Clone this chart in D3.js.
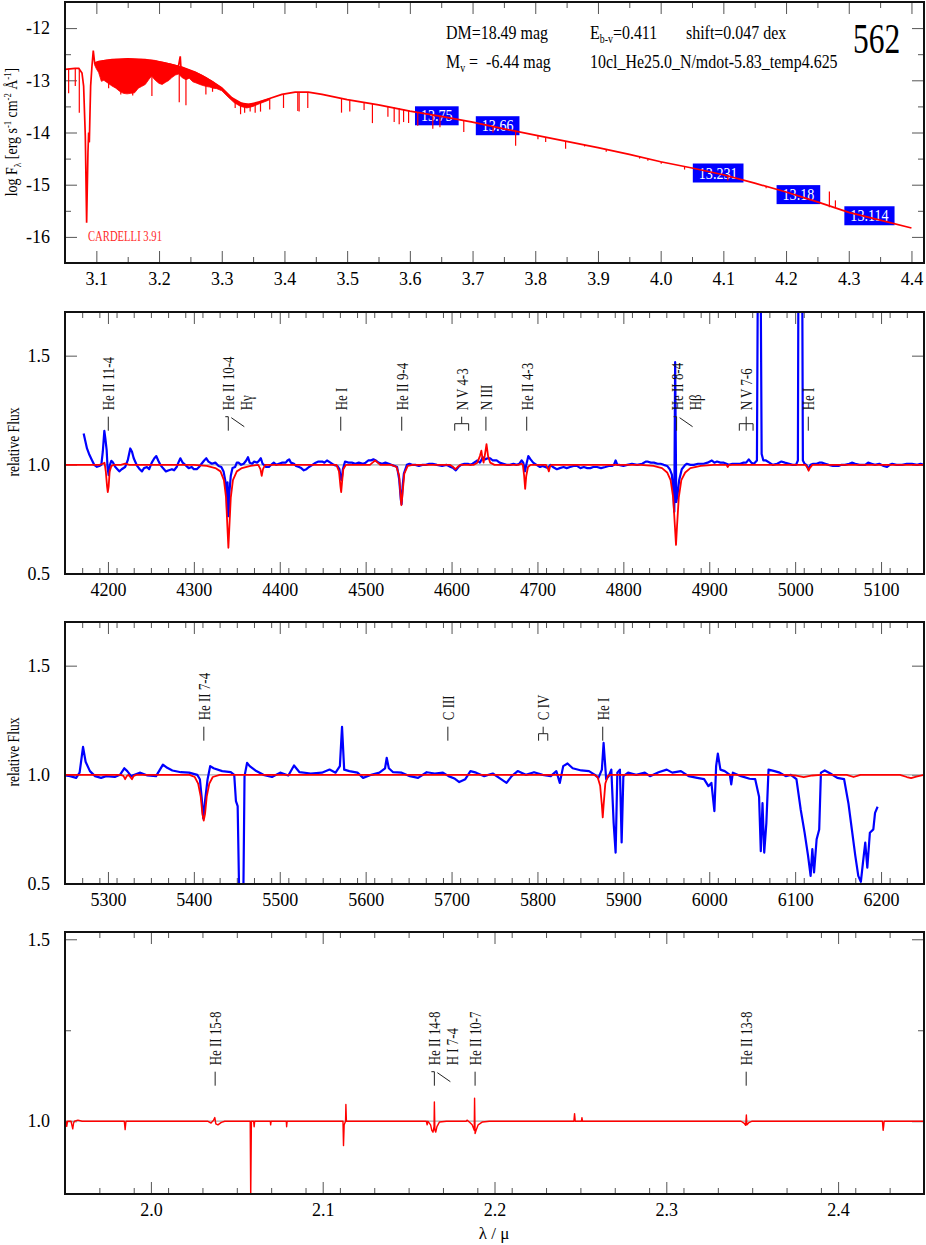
<!DOCTYPE html>
<html><head><meta charset="utf-8">
<script src="https://cdn.jsdelivr.net/npm/d3@7"></script>
<style>
body{margin:0;background:#fff}
svg{display:block}
svg text{font-family:"Liberation Serif","Times New Roman",serif !important}
</style></head>
<body><svg id="chart" width="926" height="1245"></svg>
<script>
// ===================== DATA =====================
// Panel 1: SED (log lambda / log F)
const sedXTicks=[3.1,3.2,3.3,3.4,3.5,3.6,3.7,3.8,3.9,4.0,4.1,4.2,4.3,4.4];
const sedYTicks=[-16,-15,-14,-13,-12];
const sedModel=[[3.05,-12.79],[3.058,-12.78],[3.066,-12.77],[3.072,-12.77],[3.0771,-12.86],[3.0797,-13.11],[3.0824,-14.07],[3.0845,-15.73],[3.0866,-14.38],[3.0877,-14.0],[3.0888,-14.19],[3.0899,-13.6],[3.0909,-13.11],[3.093,-12.73],[3.0951,-12.43],[3.0973,-12.67],[3.1036,-12.64],[3.125,-12.605],[3.15,-12.59],[3.178,-12.605],[3.205,-12.655],[3.231,-12.73],[3.2338,-12.54],[3.2348,-12.74],[3.258,-12.846],[3.284,-13.02],[3.3,-13.145],[3.316,-13.335],[3.332,-13.443],[3.343,-13.462],[3.359,-13.418],[3.375,-13.354],[3.396,-13.27],[3.417,-13.227],[3.438,-13.227],[3.46,-13.27],[3.5,-13.37],[3.55,-13.47],[3.6,-13.59],[3.65,-13.69],[3.7,-13.8],[3.75,-13.93],[3.8,-14.05],[3.85,-14.17],[3.9,-14.29],[3.95,-14.42],[4.0,-14.56],[4.05,-14.68],[4.1,-14.81],[4.15,-14.97],[4.2,-15.14],[4.25,-15.33],[4.3,-15.53],[4.35,-15.68],[4.4,-15.83]];
// UV line forest: [logLambda, upper, lower]
const sedForest=[[3.097,-12.67,-12.70],[3.100,-12.655,-12.78],[3.1036,-12.64,-12.85],[3.108,-12.63,-13.02],[3.112,-12.62,-13.0],[3.118,-12.61,-13.05],[3.125,-12.605,-13.11],[3.131,-12.60,-13.15],[3.137,-12.60,-13.21],[3.143,-12.595,-13.25],[3.149,-12.59,-13.26],[3.155,-12.59,-13.25],[3.161,-12.595,-13.24],[3.167,-12.6,-13.15],[3.172,-12.6,-13.12],[3.178,-12.605,-13.08],[3.184,-12.61,-12.98],[3.188,-12.61,-12.92],[3.194,-12.62,-13.0],[3.2,-12.64,-13.06],[3.205,-12.655,-13.08],[3.21,-12.665,-13.04],[3.216,-12.68,-13.0],[3.22,-12.69,-12.95],[3.226,-12.71,-12.9],[3.231,-12.73,-12.88],[3.237,-12.75,-12.95],[3.243,-12.78,-12.99],[3.248,-12.8,-12.96],[3.254,-12.83,-13.03],[3.259,-12.85,-13.05],[3.265,-12.88,-13.08],[3.27,-12.91,-13.1],[3.276,-12.95,-13.12],[3.281,-12.99,-13.13],[3.286,-13.03,-13.15],[3.292,-13.08,-13.16],[3.3,-13.145,-13.2],[3.31,-13.27,-13.32],[3.32,-13.37,-13.43],[3.33,-13.43,-13.5],[3.34,-13.46,-13.53],[3.35,-13.45,-13.5],[3.36,-13.41,-13.45],[3.375,-13.354,-13.38]];
// individual lines: [logLambda, from, to]
const sedLines=[[3.0505,-12.79,-13.30],[3.0558,-12.78,-13.25],[3.0664,-12.77,-13.11],[3.0728,-12.78,-13.62],[3.1196,-12.61,-13.15],[3.139,-12.6,-13.27],[3.158,-12.59,-13.29],[3.1886,-12.61,-13.30],[3.2322,-12.73,-13.42],[3.2429,-12.78,-13.48],[3.2747,-12.94,-13.27],[3.2853,-13.02,-13.22],[3.3214,-13.38,-13.53],[3.330,-13.43,-13.65],[3.3365,-13.45,-13.62],[3.3453,-13.46,-13.60],[3.3533,-13.44,-13.62],[3.3618,-13.41,-13.6],[3.3765,-13.35,-13.56],[3.3985,-13.26,-13.53],[3.4213,-13.225,-13.59],[3.4234,-13.225,-13.6],[3.4372,-13.227,-13.53],[3.491,-13.34,-13.62],[3.5042,-13.38,-13.6],[3.527,-13.42,-13.57],[3.5403,-13.45,-13.82],[3.565,-13.5,-13.7],[3.575,-13.52,-13.8],[3.583,-13.535,-13.84],[3.590,-13.55,-13.8],[3.598,-13.57,-13.82],[3.6126,-13.61,-13.87],[3.6366,-13.66,-13.93],[3.648,-13.69,-13.9],[3.686,-13.77,-13.99],[3.7326,-13.88,-14.0],[3.7687,-13.96,-14.255],[3.8043,-14.06,-14.13],[3.8166,-14.09,-14.18],[3.8484,-14.165,-14.31],[3.8787,-14.24,-14.27],[3.9132,-14.32,-14.37],[3.9664,-14.46,-14.5],[3.9796,-14.49,-14.54],[4.0009,-14.56,-14.6],[4.0381,-14.65,-14.71],[4.1071,-14.83,-14.92],[4.1682,-15.03,-15.07],[4.2293,-15.25,-15.27],[4.2691,-15.4,-15.43],[4.2691,-15.4,-15.13],[4.2787,-15.43,-15.3]];
// photometry boxes
const photLambda=[3.643,3.740,4.0917,4.2197,4.333];
const photFlux=[-13.68,-13.87,-14.776,-15.19,-15.595];
const photMag=["13.75","13.66","13.231","13.18","13.114"];

// Panel 2: optical blue
const opt1XTicks=[4200,4300,4400,4500,4600,4700,4800,4900,5000,5100];
const relYTicks=[0.5,1.0,1.5];
const opt1Obs=[[4171.7,1.143],[4175.6,1.075],[4178,1.05],[4181.4,1.021],[4184,1.0],[4187.2,0.991],[4190,0.995],[4192.3,1.0],[4194,1.06],[4195.8,1.156],[4197,1.12],[4198.5,1.067],[4199.5,0.99],[4200.8,0.953],[4202.3,1.0],[4203.9,1.018],[4206,1.01],[4208.6,0.99],[4211,0.98],[4213.2,0.97],[4216,0.98],[4220,0.99],[4223,1.02],[4226,1.075],[4228,1.06],[4230,1.03],[4234,0.995],[4237,0.98],[4239.6,0.97],[4242,0.985],[4245.4,0.99],[4248,0.98],[4251,1.01],[4254,1.03],[4256.3,1.04],[4258.5,1.02],[4261,1.0],[4264,0.985],[4267.5,0.97],[4271,0.975],[4274.5,0.98],[4277,0.975],[4280,0.99],[4282,1.01],[4284.3,1.03],[4287,1.01],[4290,1.0],[4294,0.985],[4297.6,0.99],[4300,0.98],[4303.4,0.98],[4306,0.99],[4309,1.005],[4312,1.02],[4314.5,1.03],[4317,1.015],[4321,1.005],[4325,1.01],[4328.8,0.995],[4332,0.99],[4334.6,0.97],[4336.5,0.93],[4338,0.88],[4338.8,0.78],[4339.2,0.92],[4339.7,0.765],[4340.6,0.765],[4341.5,0.88],[4343,0.95],[4345,0.985],[4348,0.99],[4350,1.01],[4352,1.01],[4355,1.0],[4358,1.005],[4361,1.02],[4363,1.035],[4365,1.01],[4368,1.005],[4370,1.015],[4373.8,1.01],[4376,1.02],[4378,1.03],[4380,1.005],[4381.6,1.0],[4384,0.99],[4387.4,0.99],[4390,1.0],[4393,1.01],[4396,1.0],[4399,1.005],[4403,1.01],[4407,1.01],[4409,1.02],[4411,1.025],[4413,1.01],[4416.6,1.005],[4419,0.995],[4422.4,0.99],[4425,0.985],[4428,0.975],[4431,0.98],[4434,0.99],[4438,1.0],[4441.8,1.01],[4445,1.015],[4449.5,1.015],[4452,1.01],[4455,1.02],[4459,1.01],[4463,1.0],[4467,0.995],[4469.5,0.98],[4471,0.935],[4472,0.93],[4473.5,0.98],[4476,1.015],[4480,1.01],[4484,1.01],[4488,1.005],[4492,1.01],[4497,1.005],[4500,1.01],[4503,1.02],[4506,1.02],[4509,1.025],[4512,1.02],[4515,1.01],[4519,1.005],[4523,1.01],[4527,1.005],[4530,1.0],[4534,0.995],[4536.6,0.99],[4539,0.935],[4541,0.84],[4541.8,0.82],[4543,0.9],[4544.5,0.96],[4548,1.0],[4551,1.005],[4554,1.0],[4558,1.0],[4562,0.995],[4566,1.0],[4570,1.0],[4574,1.005],[4578,1.005],[4583,1.0],[4589,0.995],[4594,1.0],[4599,0.99],[4602,0.985],[4605,0.975],[4608,0.99],[4611,1.0],[4615,1.005],[4619,1.005],[4622,1.0],[4624.5,1.005],[4628,1.015],[4630,1.02],[4633,1.01],[4636.4,1.035],[4639,1.025],[4642,1.03],[4645,1.03],[4648,1.02],[4652.5,1.02],[4656,1.01],[4660.3,1.005],[4664,1.0],[4668,1.0],[4672,1.005],[4675.8,1.0],[4679,1.005],[4681.6,1.02],[4683.5,1.01],[4685.5,0.97],[4687,1.0],[4689.4,1.04],[4692,1.025],[4695,1.01],[4699,1.0],[4703,0.99],[4706,0.995],[4709,0.99],[4712,0.985],[4715,1.0],[4718,0.99],[4722.6,0.98],[4726,0.985],[4730.4,0.99],[4734,0.985],[4738,0.99],[4742,0.995],[4746,0.995],[4750,0.985],[4754,0.99],[4758,0.985],[4761.6,0.985],[4765,0.99],[4769.4,0.99],[4774,0.985],[4779,0.99],[4783,0.995],[4787,0.995],[4789,1.0],[4791,1.02],[4793,1.0],[4795,1.0],[4800,0.995],[4804.5,1.0],[4810,1.005],[4816,1.0],[4822,1.005],[4826,1.015],[4828,1.015],[4832,1.01],[4835.6,1.01],[4840,1.005],[4843.4,1.005],[4847,1.0],[4851,0.995],[4854,0.98],[4856.5,0.955],[4858,0.88],[4859.3,0.785],[4860.3,1.47],[4861.6,0.83],[4863,0.86],[4865,0.93],[4868,0.98],[4872,1.0],[4874,1.005],[4878,1.0],[4882,1.0],[4887,1.005],[4893.5,1.005],[4898,1.01],[4903,1.02],[4906,1.01],[4909,1.015],[4913,1.01],[4917,1.01],[4920,1.005],[4922.5,1.0],[4927,1.005],[4932,1.005],[4936,1.005],[4940,1.01],[4943,1.01],[4946,1.025],[4949,1.01],[4952,1.005],[4955.5,1.02],[4956.6,1.9],[4959.8,1.9],[4961,1.05],[4963,1.02],[4966,1.02],[4970,1.01],[4974,1.0],[4979,1.005],[4984,1.015],[4988,1.01],[4993,1.005],[4997,1.0],[5001,1.0],[5003.2,1.02],[5003.8,1.9],[5008.2,1.9],[5009,1.02],[5011,1.005],[5013,1.0],[5015.5,0.98],[5018,1.0],[5021,1.005],[5025,1.005],[5028,1.01],[5031,1.01],[5035,1.005],[5039,1.0],[5044,0.995],[5050.5,0.995],[5054,1.0],[5058,1.0],[5063,1.005],[5066,1.01],[5070,1.005],[5075,1.0],[5081.5,1.0],[5085,1.01],[5089,1.005],[5093,1.0],[5098,1.005],[5103,0.995],[5107,0.99],[5110,1.0],[5113,1.005],[5118,1.0],[5124.5,1.0],[5130,1.005],[5136,1.005],[5142,1.0],[5146,1.005],[5150,1.0]];
const opt1Model=[[4150,1.0],[4190,1.0],[4194,1.005],[4196,1.01],[4197.5,0.97],[4199,0.9],[4199.8,0.875],[4200.8,0.9],[4202,0.97],[4204,0.995],[4207,1.0],[4215,1.0],[4220,1.005],[4225,1.0],[4300,1.0],[4315,0.995],[4325,0.985],[4331,0.97],[4335,0.93],[4337.5,0.85],[4339,0.72],[4340.2,0.62],[4341.4,0.72],[4343,0.85],[4345.5,0.93],[4350,0.97],[4356,0.985],[4366,0.995],[4375,1.0],[4377.5,0.98],[4379,0.95],[4380.5,0.98],[4383,1.0],[4466,1.0],[4469,0.97],[4470.7,0.9],[4471.5,0.875],[4472.5,0.92],[4474,0.98],[4477,1.0],[4505,1.0],[4508,1.01],[4511,1.02],[4514,1.01],[4517,1.0],[4530,1.0],[4536,0.99],[4539,0.95],[4541,0.84],[4541.6,0.815],[4542.5,0.85],[4545,0.96],[4549,0.995],[4555,1.0],[4598,1.0],[4602,0.99],[4604.5,0.98],[4607,0.99],[4610,1.0],[4620,1.0],[4626,1.0],[4630,1.01],[4633,1.04],[4634.7,1.065],[4636,1.03],[4637.3,1.01],[4639,1.05],[4640.7,1.095],[4642.5,1.04],[4645,1.01],[4650,1.0],[4678,1.0],[4681,1.005],[4683,1.0],[4684.5,0.95],[4685.7,0.89],[4687,0.95],[4689,0.99],[4692,1.0],[4710,1.0],[4712,0.985],[4713.3,0.97],[4714.5,0.99],[4716,1.0],[4820,1.0],[4835,0.995],[4845,0.985],[4851,0.965],[4855,0.93],[4858,0.85],[4860,0.72],[4861.3,0.633],[4862.5,0.72],[4864.5,0.85],[4867.5,0.93],[4872,0.965],[4878,0.985],[4890,0.995],[4905,1.0],[4920,1.0],[4921.5,0.99],[4923,1.0],[5012,1.0],[5014.5,0.985],[5015.7,0.973],[5017,0.985],[5020,1.0],[5150,1.0]];
const opt1Ids=[
 {names:["He II 11-4"],lam:[4200.4]},
 {names:["He II 10-4","Hγ"],lam:[4340.1]},
 {names:["He I"],lam:[4471]},
 {names:["He II 9-4"],lam:[4542]},
 {names:["N V 4-3"],lam:[4603.7,4619.9]},
 {names:["N III"],lam:[4640]},
 {names:["He II 4-3"],lam:[4687.5]},
 {names:["He II 8-4","Hβ"],lam:[4862]},
 {names:["N V 7-6"],lam:[4935,4943,4951]},
 {names:["He I"],lam:[5015.3]}
];

// Panel 3: optical red
const opt2XTicks=[5300,5400,5500,5600,5700,5800,5900,6000,6100,6200];
const opt2Obs=[[5250,0.997],[5256,0.994],[5263,0.986],[5267,1.01],[5271,1.128],[5274,1.06],[5279,1.017],[5285,0.994],[5292,0.986],[5298,0.994],[5308,0.99],[5314,1.0],[5319,1.03],[5322.5,1.017],[5327,0.994],[5337,1.01],[5346,0.997],[5356,0.994],[5364,1.047],[5369,1.032],[5375,1.02],[5385,1.012],[5394.5,1.01],[5404,1.0],[5407,0.98],[5409,0.9],[5411,0.8],[5413,0.88],[5416,0.98],[5419,1.04],[5423,1.03],[5433,1.017],[5443,1.012],[5447,1.0],[5449,0.88],[5451,0.857],[5453,0.4],[5457.5,0.4],[5459,0.994],[5462,1.055],[5465,1.04],[5471.6,1.02],[5481,1.0],[5491,0.99],[5500.5,1.01],[5510,0.997],[5516.6,1.043],[5523,1.012],[5536,1.006],[5549,1.01],[5558,1.024],[5565,1.01],[5570,1.04],[5572.5,1.22],[5575,1.024],[5581,1.017],[5590.5,1.01],[5597,0.986],[5606.5,1.0],[5616,1.01],[5622.6,1.03],[5624.5,1.078],[5627,1.03],[5632,1.012],[5642,1.01],[5651.5,0.994],[5661,0.986],[5671,1.012],[5680.5,1.006],[5690,1.01],[5696.5,0.994],[5704,0.982],[5709,0.967],[5716,0.98],[5722,1.017],[5728.6,1.01],[5738,0.994],[5748,1.006],[5757.6,0.98],[5764,0.963],[5770,0.994],[5777,1.017],[5786.5,1.0],[5796,1.012],[5806,1.0],[5815.5,0.994],[5822,1.017],[5826,0.963],[5830,1.04],[5835,1.052],[5841,1.03],[5851,1.02],[5860,1.017],[5867,1.0],[5871,0.986],[5875,1.024],[5877,1.146],[5880,0.98],[5883,0.994],[5886,1.024],[5888.7,0.78],[5891,0.644],[5893,1.01],[5896,1.024],[5898,0.69],[5900,0.994],[5905.5,1.01],[5915,1.0],[5925,1.01],[5931,0.994],[5941,1.012],[5950.5,1.024],[5957,1.01],[5967,1.017],[5976,0.994],[5986,0.986],[5994,0.98],[5999,0.948],[6002.5,0.963],[6006,0.834],[6008,1.04],[6010,1.097],[6013,1.024],[6018,1.017],[6024,1.0],[6025.6,0.956],[6027.5,1.01],[6037,0.994],[6047,0.982],[6053.5,0.98],[6058,0.9],[6060,0.65],[6062,0.87],[6064,0.644],[6066.5,0.78],[6069,1.024],[6076,1.017],[6082,1.01],[6089,0.994],[6095,1.0],[6101.5,0.98],[6106.5,0.84],[6111,0.735],[6115,0.63],[6118,0.537],[6120,0.66],[6122,0.553],[6125,0.705],[6128,0.75],[6130,1.01],[6134.5,1.02],[6141,1.006],[6149,0.986],[6157,0.98],[6162,0.87],[6166,0.75],[6170,0.63],[6173.5,0.537],[6176.5,0.51],[6179,0.6],[6181.6,0.69],[6184,0.575],[6187,0.735],[6191,0.75],[6193,0.826],[6196,0.854]];
const opt2Model=[[5250,1.0],[5315,1.0],[5318,0.995],[5320,0.98],[5322,0.995],[5324,1.0],[5326,0.99],[5328,0.98],[5330,0.995],[5333,1.0],[5395,1.0],[5401,0.99],[5405,0.96],[5408,0.9],[5410,0.82],[5411.5,0.79],[5413,0.82],[5415,0.9],[5418,0.96],[5422,0.99],[5430,1.0],[5866,1.0],[5870,0.99],[5873,0.95],[5875,0.86],[5876,0.805],[5877,0.86],[5879,0.96],[5882,0.995],[5885,1.0],[6090,1.0],[6100,0.997],[6110,0.99],[6120,0.997],[6130,1.0],[6160,1.0],[6168,0.99],[6176,1.0],[6222,1.0],[6230,0.99],[6235,0.985],[6241,0.992],[6250,1.0]];
const opt2Ids=[
 {names:["He II 7-4"],lam:[5411.6]},
 {names:["C III"],lam:[5695.7]},
 {names:["C IV"],lam:[5801.3,5812.0]},
 {names:["He I"],lam:[5876]}
];

// Panel 4: infrared K band (micron)
const irXTicks=[2.0,2.1,2.2,2.3,2.4];
const irYTicks=[1.0,1.5];
const irModel=[[1.95,1.0],[1.9505,1.0],[1.951,0.986],[1.9515,1.0],[1.9535,1.0],[1.9545,0.979],[1.955,0.995],[1.9555,1.0],[1.9575,1.003],[1.96,1.0],[1.9845,1.0],[1.985,0.977],[1.9855,1.0],[2.033,1.0],[2.035,0.995],[2.0365,1.003],[2.0372,1.01],[2.0378,0.993],[2.039,0.99],[2.041,0.997],[2.043,1.0],[2.0578,1.0],[2.0581,0.79],[2.0585,1.0],[2.0598,1.0],[2.0601,0.985],[2.0604,1.0],[2.0695,1.0],[2.0697,0.99],[2.07,1.0],[2.0788,1.0],[2.079,0.985],[2.0793,1.0],[2.1118,1.0],[2.1121,0.933],[2.1125,0.99],[2.1133,1.0],[2.1135,1.046],[2.1138,1.0],[2.1603,1.0],[2.1608,0.99],[2.1612,1.0],[2.1628,0.99],[2.1635,0.975],[2.1642,0.97],[2.1648,0.985],[2.165,1.053],[2.1653,0.975],[2.1658,0.97],[2.1665,0.985],[2.168,0.998],[2.172,1.0],[2.1835,1.0],[2.184,1.003],[2.1855,0.997],[2.187,0.99],[2.1882,0.975],[2.1884,1.063],[2.1887,0.966],[2.1893,0.975],[2.1905,0.99],[2.193,0.998],[2.197,1.0],[2.2462,1.0],[2.2466,1.021],[2.247,1.0],[2.2506,1.0],[2.2509,1.01],[2.2512,1.0],[2.3435,1.0],[2.3452,0.995],[2.3462,0.989],[2.3466,1.017],[2.3469,0.99],[2.348,0.996],[2.35,1.0],[2.4258,1.0],[2.4262,0.975],[2.4265,0.985],[2.4268,1.0],[2.45,1.0]];
const irIds=[
 {names:["He II 15-8"],lam:[2.0374]},
 {names:["He II 14-8","H I 7-4"],lam:[2.165]},
 {names:["He II 10-7"],lam:[2.1887]},
 {names:["He II 13-8"],lam:[2.3465]}
];

// ===================== DRAWING =====================
const svg=d3.select("#chart");
const RED="#ff0000", BLUE="#0000ff";
const FONT='"Liberation Serif","Times New Roman",serif';

function makePanel(o){
  const g=svg.append("g");
  const x=d3.scaleLinear().domain(o.xDomain).range([o.left,o.right]);
  const y=d3.scaleLinear().domain(o.yDomain).range([o.bottom,o.top]);
  const cid="clip-"+o.name;
  svg.append("clipPath").attr("id",cid).append("rect")
    .attr("x",o.left).attr("y",o.top).attr("width",o.right-o.left).attr("height",o.bottom-o.top);
  const axesG=g.append("g");
  function ax(axis,tx,ty,vals,size,fmt,pad){
    const a=axesG.append("g").attr("transform",`translate(${tx},${ty})`)
      .call(axis.tickValues(vals).tickSize(-size).tickPadding(pad||0).tickFormat(fmt||(()=>"")));
    a.attr("font-family",null).attr("font-size",null);
    a.select(".domain").remove();
    a.selectAll("line").attr("stroke","#555").attr("stroke-width",1);
    a.selectAll("text").attr("font-size",18).attr("fill","#000").style("font-family",FONT);
    return a;
  }
  const isMajor=(v,arr)=>arr.some(t=>Math.abs(t-v)<1e-9);
  const xMinor=d3.range(o.xDomain[0],o.xDomain[1]+1e-9,o.xMinorStep).filter(v=>!isMajor(v,o.xTicks)&&v>o.xDomain[0]+1e-9&&v<o.xDomain[1]-1e-9);
  const yMinor=(o.yMinor||[]);
  ax(d3.axisBottom(x),0,o.bottom,o.xTicks,12,o.xFmt,9);
  ax(d3.axisBottom(x),0,o.bottom,xMinor,6);
  ax(d3.axisTop(x),0,o.top,o.xTicks,12);
  ax(d3.axisTop(x),0,o.top,xMinor,6);
  ax(d3.axisLeft(y),o.left,0,o.yTicks,12,o.yFmt,15);
  ax(d3.axisLeft(y),o.left,0,yMinor,6);
  ax(d3.axisRight(y),o.right,0,o.yTicks,12);
  ax(d3.axisRight(y),o.right,0,yMinor,6);
  const plot=g.append("g").attr("clip-path",`url(#${cid})`);
  const over=g.append("g");
  g.append("rect").attr("x",o.left).attr("y",o.top).attr("width",o.right-o.left).attr("height",o.bottom-o.top)
    .attr("fill","none").attr("stroke","#111").attr("stroke-width",2);
  return {g,plot,over,x,y};
}

function drawIds(p,ids,yTop){
  const len=14, gap=6.5, g=p.over.append("g").attr("stroke","#222").attr("stroke-width",1).attr("fill","none");
  const tg=p.over.append("g");
  ids.forEach(d=>{
    const xs=d.lam.map(p.x);
    let xc;
    if(xs.length>1){
      const x0=d3.min(xs),x1=d3.max(xs); xc=(x0+x1)/2;
      g.append("line").attr("x1",x0).attr("x2",x1).attr("y1",yTop+len/2).attr("y2",yTop+len/2);
      xs.forEach(xx=>g.append("line").attr("x1",xx).attr("x2",xx).attr("y1",yTop+len/2).attr("y2",yTop+len));
      g.append("line").attr("x1",xc).attr("x2",xc).attr("y1",yTop).attr("y2",yTop+len/2);
    } else {
      xc=xs[0];
      g.append("line").attr("x1",xc).attr("x2",xc).attr("y1",yTop).attr("y2",yTop+len);
    }
    if(d.names.length>1){
      g.append("line").attr("x1",xc-3).attr("x2",xc).attr("y1",yTop).attr("y2",yTop);
      g.append("line").attr("x1",xc+3).attr("x2",xc+16).attr("y1",yTop+1).attr("y2",yTop+10);
    }
    d.names.forEach((nm,i)=>{
      const tx=xc+i*18;
      tg.append("text").attr("transform",`translate(${tx},${yTop-gap}) rotate(-90) scale(0.76,1)`)
        .attr("dy","0.35em").attr("font-size",17).attr("fill","#111").text(nm);
    });
  });
}

const fmt1=d3.format(".1f");

// ---------- Panel 1 ----------
const p1=makePanel({name:"sed",left:65,right:924,top:2,bottom:263,xDomain:[3.05,4.42],yDomain:[-16.5,-11.5],
  xTicks:sedXTicks,xMinorStep:0.05,xFmt:fmt1,yTicks:sedYTicks,yMinor:[-15.5,-14.5,-13.5,-12.5],yFmt:d=>String(d)});
photLambda.forEach((l,i)=>{
  const cx=p1.x(l), cy=p1.y(photFlux[i]);
  const t=p1.plot.append("text").attr("font-size",16).attr("fill","#fff")
    .attr("transform",`translate(${cx},${cy+5.5}) scale(0.88,1)`).attr("text-anchor","middle").text(photMag[i]);
  const w=t.node().getComputedTextLength()*0.88+12;
  p1.plot.insert("rect","text").attr("x",cx-w/2).attr("y",cy-9.5).attr("width",w).attr("height",19).attr("fill",BLUE);
});
p1.plot.append("path").datum(sedForest).attr("fill",RED).attr("stroke",RED).attr("stroke-width",0.8)
  .attr("d",d3.area().x(d=>p1.x(d[0])).y0(d=>p1.y(d[2])).y1(d=>p1.y(d[1])));
p1.plot.append("g").selectAll("line").data(sedLines).join("line")
  .attr("x1",d=>p1.x(d[0])).attr("x2",d=>p1.x(d[0])).attr("y1",d=>p1.y(d[1])).attr("y2",d=>p1.y(d[2]))
  .attr("stroke",RED).attr("stroke-width",1.2);
p1.plot.append("path").datum(sedModel).attr("fill","none").attr("stroke",RED).attr("stroke-width",1.7)
  .attr("d",d3.line().x(d=>p1.x(d[0])).y(d=>p1.y(d[1])));
function ann(x,y,parts,size,sx){
  const t=svg.append("text").attr("transform",`translate(${x},${y}) scale(${sx},1)`).attr("font-size",size)
    .attr("fill","#000").style("white-space","pre");
  parts.forEach(pt=>{
    const ts=t.append("tspan").text(pt.t);
    if(pt.sub){ts.attr("font-size",size*0.62).attr("dy",4);}
    if(pt.back){ts.attr("dy",-4);}
  });
  return t;
}
ann(446,39,[{t:"DM=18.49 mag"}],19,0.84);
ann(590,39,[{t:"E"},{t:"b-v",sub:1},{t:"=0.411",back:1}],19,0.84);
ann(686,39,[{t:"shift=0.047 dex"}],19,0.84);
ann(446,68,[{t:"M"},{t:"v",sub:1},{t:" =  -6.44 mag",back:1}],19,0.84);
ann(590,68,[{t:"10cl_He25.0_N/mdot-5.83_temp4.625"}],19,0.84);
svg.append("text").attr("transform","translate(853,53) scale(0.75,1)").attr("font-size",42).attr("fill","#000").text("562");
svg.append("text").attr("x",88).attr("y",241).attr("font-size",15).attr("fill","#ff2a2a")
  .attr("textLength",74).attr("lengthAdjust","spacingAndGlyphs").text("CARDELLI 3.91");
{
  const t=svg.append("text").attr("transform","translate(17,132) rotate(-90) scale(0.87,1)").attr("text-anchor","middle")
    .attr("font-size",16).attr("fill","#000").style("white-space","pre");
  t.append("tspan").text("log F");
  t.append("tspan").attr("font-size",11).attr("dy",4).text("λ");
  t.append("tspan").attr("dy",-4).text(" [erg s");
  t.append("tspan").attr("font-size",10).attr("dy",-6).text("-1");
  t.append("tspan").attr("dy",6).text(" cm");
  t.append("tspan").attr("font-size",10).attr("dy",-6).text("-2");
  t.append("tspan").attr("dy",6).text(" Å");
  t.append("tspan").attr("font-size",10).attr("dy",-6).text("-1");
  t.append("tspan").attr("dy",6).text("]");
}

// ---------- Panels 2-4 ----------
function specPanel(o,obs,model,lw){
  const p=makePanel(o);
  p.plot.append("line").attr("x1",o.left).attr("x2",o.right).attr("y1",p.y(1)).attr("y2",p.y(1))
    .attr("stroke","#aaa").attr("stroke-width",1.3);
  const line=d3.line().x(d=>p.x(d[0])).y(d=>p.y(d[1]));
  if(obs) p.plot.append("path").datum(obs).attr("fill","none").attr("stroke",BLUE).attr("stroke-width",2.2)
    .attr("stroke-linejoin","round").attr("d",line);
  p.plot.append("path").datum(model).attr("fill","none").attr("stroke",RED).attr("stroke-width",lw)
    .attr("stroke-linejoin","round").attr("d",line);
  return p;
}
const p2=specPanel({name:"opt1",left:65,right:924,top:312,bottom:574,xDomain:[4150,5150],yDomain:[0.5,1.7],
  xTicks:opt1XTicks,xMinorStep:20,xFmt:d3.format("d"),yTicks:relYTicks,yFmt:fmt1},opt1Obs,opt1Model,1.8);
drawIds(p2,opt1Ids,416.7);
const p3=specPanel({name:"opt2",left:65,right:924,top:622,bottom:884,xDomain:[5250,6250],yDomain:[0.5,1.7],
  xTicks:opt2XTicks,xMinorStep:20,xFmt:d3.format("d"),yTicks:relYTicks,yFmt:fmt1},opt2Obs,opt2Model,1.8);
drawIds(p3,opt2Ids,726.7);
const p4=specPanel({name:"ir",left:65,right:924,top:932,bottom:1194,xDomain:[1.95,2.45],yDomain:[0.8,1.52],
  xTicks:irXTicks,xMinorStep:0.02,xFmt:fmt1,yTicks:irYTicks,yMinor:[1.25],yFmt:fmt1},null,irModel,1.4);
drawIds(p4,irIds,1071.7);

[442,752].forEach(cy=>{
  svg.append("text").attr("transform",`translate(13,${cy}) rotate(-90)`).attr("dy","0.35em").attr("text-anchor","middle")
    .attr("font-size",16).attr("textLength",69).attr("lengthAdjust","spacingAndGlyphs").attr("fill","#000").text("relative Flux");
});
svg.append("text").attr("x",494).attr("y",1239).attr("text-anchor","middle").attr("font-size",17).attr("fill","#000").text("λ / μ");
</script></body></html>
